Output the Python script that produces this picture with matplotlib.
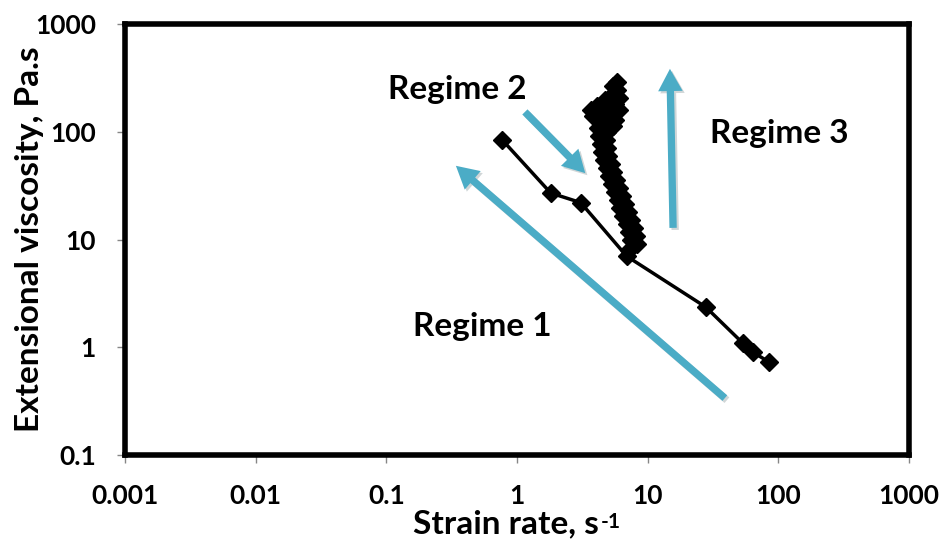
import matplotlib
matplotlib.use("Agg")
import matplotlib.pyplot as plt
import matplotlib.patheffects as pe
from matplotlib.patches import FancyArrowPatch

plt.rcParams['font.family'] = ['Lato', 'DejaVu Sans']
plt.rcParams['font.weight'] = 'bold'

# lower branch: regime 1 (thinning) line
rate_low = [0.77, 1.81, 3.07, 6.9, 27.8, 53.5, 63.8, 84.6]
visc_low = [84.0, 27.0, 22.0, 7.0, 2.36, 1.09, 0.90, 0.73]

# upper branch: regimes 2 and 3, densely sampled
rate_up = [7.15, 8.24, 7.41, 8.09, 7.15, 7.81, 6.90, 7.41, 6.43, 7.03,
           6.10, 6.66, 5.89, 6.32, 5.59, 6.00, 5.30, 5.69, 5.02, 5.39,
           4.85, 5.21, 4.60, 4.94, 4.44, 4.85, 4.36, 4.77, 4.21, 4.85,
           4.14, 5.39, 4.36, 5.59, 3.79, 5.02, 3.66, 6.00, 4.07, 5.59,
           4.68, 6.00, 5.39, 5.79, 5.39, 5.79]
visc_up = [8.0, 9.1, 9.9, 10.8, 11.7, 12.8, 13.9, 15.2, 16.5, 18.0,
           19.6, 21.4, 23.3, 25.3, 27.6, 30.1, 32.7, 35.7, 38.8, 42.3,
           46.1, 50.2, 54.7, 59.6, 64.9, 70.7, 76.9, 83.8, 91.3, 99.5,
           108, 113, 123, 129, 140, 146, 159, 159, 173, 181,
           197, 206, 224, 244, 266, 289]

xticks = [0.001, 0.01, 0.1, 1, 10, 100, 1000]
xtick_labels = ['0.001', '0.01', '0.1', '1', '10', '100', '1000']
yticks = [0.1, 1, 10, 100, 1000]
ytick_labels = ['0.1', '1', '10', '100', '1000']

arrow_color = '#4BACC6'

fig = plt.figure(figsize=(9.45, 5.41), dpi=100)
ax = fig.add_axes([0.1323, 0.159, 0.8297, 0.7966])

for rx, vy in [(rate_low, visc_low), (rate_up, visc_up)]:
    ax.plot(rx, vy, color='black', lw=2.5, marker='D', ms=9.5,
            markerfacecolor='black', markeredgecolor='black')

ax.set_xscale('log')
ax.set_yscale('log')
ax.set_xlim(1e-3, 1e3)
ax.set_ylim(0.1, 1000)
ax.set_xticks(xticks)
ax.set_xticklabels(xtick_labels)
ax.set_yticks(yticks)
ax.set_yticklabels(ytick_labels)
ax.minorticks_off()
ax.tick_params(axis='both', direction='out', length=6, width=1,
               color='#868686', pad=15, labelsize=19)

for sp in ax.spines.values():
    sp.set_linewidth(4)
    sp.set_color('black')

ax.set_xlabel('Strain rate, s', fontsize=24, fontweight='bold')
ax.set_ylabel('Extensional viscosity, Pa.s', fontsize=24, fontweight='bold')
ax.xaxis.set_label_coords(0.486, -0.127)
ax.yaxis.set_label_coords(-0.103, 0.5)

# superscript "-1" on the x-axis unit
fig.canvas.draw()
lb = ax.xaxis.label.get_window_extent(fig.canvas.get_renderer())
fig.text(lb.x1 / fig.bbox.width + 0.002, (lb.y1 - 2) / fig.bbox.height, '-1',
         fontsize=15, fontweight='bold', ha='left', va='top')

# regime arrows, in axes fraction
arrows = [((0.765, 0.132), (0.422, 0.671)),
          ((0.510, 0.796), (0.587, 0.654)),
          ((0.699, 0.527), (0.695, 0.896))]
for tail, tip in arrows:
    arr = FancyArrowPatch(tail, tip, transform=ax.transAxes,
                          arrowstyle='simple,head_length=1.0,head_width=1.1,tail_width=0.33',
                          mutation_scale=16, color=arrow_color, lw=0,
                          shrinkA=0, shrinkB=0)
    arr.set_path_effects([pe.SimplePatchShadow(offset=(1.5, -1.5), alpha=0.2),
                          pe.Normal()])
    ax.add_patch(arr)

ax.text(0.424, 0.848, 'Regime 2', transform=ax.transAxes, fontsize=24,
        fontweight='bold', ha='center', va='center')
ax.text(0.834, 0.746, 'Regime 3', transform=ax.transAxes, fontsize=24,
        fontweight='bold', ha='center', va='center')
ax.text(0.456, 0.297, 'Regime 1', transform=ax.transAxes, fontsize=24,
        fontweight='bold', ha='center', va='center')

fig.savefig('out.png', dpi=100)
